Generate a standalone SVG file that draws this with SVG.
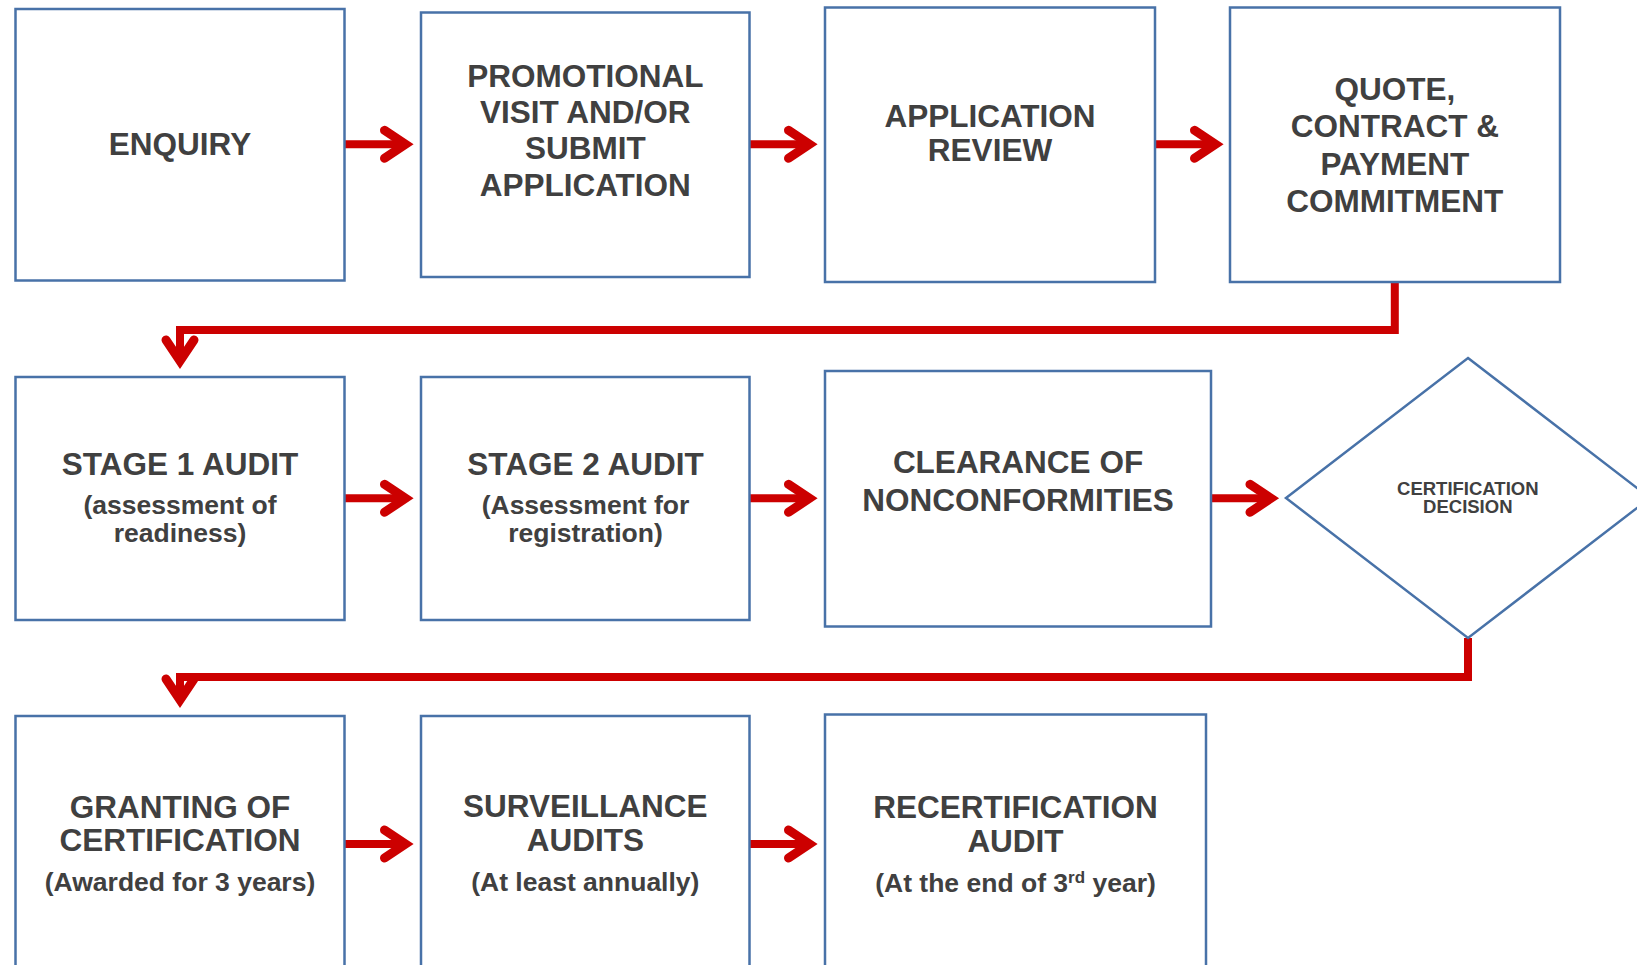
<svg xmlns="http://www.w3.org/2000/svg" width="1637" height="965" viewBox="0 0 1637 965">
  <style>
    .box { fill: #ffffff; stroke: #4872a8; stroke-width: 2.5; }
    .t { font-family: "Liberation Sans", Arial, sans-serif; font-weight: bold; fill: #404040; text-anchor: middle; }
    .h { font-size: 31.5px; }
    .s { font-size: 26.5px; }
    .d { font-size: 18.5px; }
    .flow { fill: none; stroke: #cc0000; stroke-width: 8; stroke-linejoin: miter; marker-end: url(#ah); }
  </style>
  <defs>
    <marker id="ah" markerUnits="userSpaceOnUse" orient="auto" overflow="visible"
            viewBox="-30 -25 50 50" refX="0" refY="0" markerWidth="50" markerHeight="50">
      <path d="M-21,-14 L0,0 L-21,14" fill="none" stroke="#cc0000" stroke-width="9"
            stroke-linecap="round" stroke-linejoin="miter"/>
    </marker>
  </defs>

  <rect width="1637" height="965" fill="#ffffff"/>

  <!-- connectors -->
  <g id="connectors">
    <path class="flow" d="M344.5,144.3 H405.5"/>
    <path class="flow" d="M749.5,144.3 H809.5"/>
    <path class="flow" d="M1155,144.3 H1215.5"/>
    <path class="flow" d="M1394.8,282 V330 H180 V361"/>
    <path class="flow" d="M344.5,498.3 H405.5"/>
    <path class="flow" d="M749.5,498.3 H809.5"/>
    <path class="flow" d="M1211,498.3 H1271"/>
    <path class="flow" d="M1468,638 V677 H180 V700"/>
    <path class="flow" d="M344.5,844 H405.5"/>
    <path class="flow" d="M749.5,844 H809.5"/>
  </g>

  <!-- row 1 -->
  <g id="enquiry">
    <rect class="box" x="15.5" y="9" width="329" height="271.5"/>
    <text class="t h" x="180" y="155">ENQUIRY</text>
  </g>
  <g id="promotional">
    <rect class="box" x="421" y="12.5" width="328.5" height="264.5"/>
    <text class="t h" x="585.3" y="86.7">PROMOTIONAL</text>
    <text class="t h" x="585.3" y="122.9">VISIT AND/OR</text>
    <text class="t h" x="585.3" y="159.3">SUBMIT</text>
    <text class="t h" x="585.3" y="196">APPLICATION</text>
  </g>
  <g id="application-review">
    <rect class="box" x="825" y="7.5" width="330" height="274.5"/>
    <text class="t h" x="990" y="127">APPLICATION</text>
    <text class="t h" x="990" y="160.5">REVIEW</text>
  </g>
  <g id="quote">
    <rect class="box" x="1230" y="7.5" width="330" height="274.5"/>
    <text class="t h" x="1394.8" y="100.3">QUOTE,</text>
    <text class="t h" x="1394.8" y="137.3">CONTRACT &amp;</text>
    <text class="t h" x="1394.8" y="175">PAYMENT</text>
    <text class="t h" x="1394.8" y="211.7">COMMITMENT</text>
  </g>

  <!-- row 2 -->
  <g id="stage1">
    <rect class="box" x="15.5" y="377" width="329" height="243"/>
    <text class="t h" x="180" y="474.5">STAGE 1 AUDIT</text>
    <text class="t s" x="180" y="514">(assessment of</text>
    <text class="t s" x="180" y="541.5">readiness)</text>
  </g>
  <g id="stage2">
    <rect class="box" x="421" y="377" width="328.5" height="243"/>
    <text class="t h" x="585.5" y="474.5">STAGE 2 AUDIT</text>
    <text class="t s" x="585.5" y="514">(Assessment for</text>
    <text class="t s" x="585.5" y="541.5">registration)</text>
  </g>
  <g id="clearance">
    <rect class="box" x="825" y="371" width="386" height="255.5"/>
    <text class="t h" x="1018" y="473.3">CLEARANCE OF</text>
    <text class="t h" x="1018" y="510.7">NONCONFORMITIES</text>
  </g>
  <g id="decision">
    <path class="box" d="M1468,358 L1650,498 L1468,638 L1286,498 Z"/>
    <text class="t d" x="1467.8" y="495">CERTIFICATION</text>
    <text class="t d" x="1467.8" y="513.3">DECISION</text>
  </g>

  <!-- row 3 -->
  <g id="granting">
    <rect class="box" x="15.5" y="716" width="329" height="285"/>
    <text class="t h" x="180" y="817.5">GRANTING OF</text>
    <text class="t h" x="180" y="851">CERTIFICATION</text>
    <text class="t s" x="180" y="891">(Awarded for 3 years)</text>
  </g>
  <g id="surveillance">
    <rect class="box" x="421" y="716" width="328.5" height="285"/>
    <text class="t h" x="585.3" y="817">SURVEILLANCE</text>
    <text class="t h" x="585.3" y="851">AUDITS</text>
    <text class="t s" x="585.3" y="891">(At least annually)</text>
  </g>
  <g id="recertification">
    <rect class="box" x="825" y="714.5" width="381" height="285"/>
    <text class="t h" x="1015.5" y="818">RECERTIFICATION</text>
    <text class="t h" x="1015.5" y="851.5">AUDIT</text>
    <text class="t s" x="1015.5" y="892">(At the end of 3<tspan font-size="17" dy="-9">rd</tspan><tspan dy="9"> year)</tspan></text>
  </g>
</svg>
